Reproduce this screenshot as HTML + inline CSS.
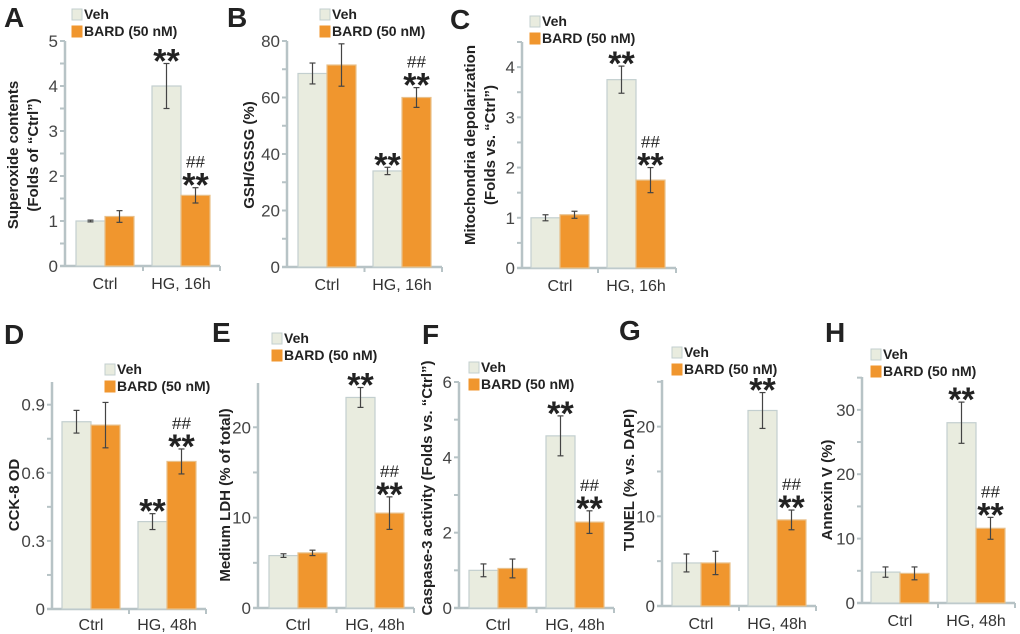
<!DOCTYPE html>
<html><head><meta charset="utf-8"><style>
body{margin:0;background:#fff}
svg{display:block;font-family:"Liberation Sans",Arial,sans-serif}
</style></head><body>
<svg id="c" width="1020" height="634" viewBox="0 0 1020 634"></svg>
<script>
const categories=['Ctrl','HG, 16h'];
const categories48=['Ctrl','HG, 48h'];
const seriesNames=['Veh','BARD (50 nM)'];
// values [Ctrl, HG]
const vehA=[1.0,4.0], vehErrA=[0.02,0.5], bardA=[1.1,1.57], bardErrA=[0.13,0.17];
const vehB=[68.5,34], vehErrB=[3.7,1.3], bardB=[71.5,60], bardErrB=[7.5,3.5];
const vehC=[1.0,3.75], vehErrC=[0.06,0.27], bardC=[1.06,1.75], bardErrC=[0.07,0.25];
const vehD=[0.825,0.385], vehErrD=[0.05,0.035], bardD=[0.81,0.65], bardErrD=[0.1,0.055];
const vehE=[5.8,23.3], vehErrE=[0.2,1.1], bardE=[6.1,10.5], bardErrE=[0.3,1.8];
const vehF=[1.0,4.57], vehErrF=[0.17,0.53], bardF=[1.05,2.28], bardErrF=[0.25,0.3];
const vehG=[4.8,21.8], vehErrG=[1.0,2.0], bardG=[4.8,9.6], bardErrG=[1.3,1.1];
const vehH=[4.8,28], vehErrH=[0.8,3.2], bardH=[4.6,11.6], bardErrH=[1.0,1.7];
const ticksA=[0,1,2,3,4,5], ticksB=[0,20,40,60,80], ticksC=[0,1,2,3,4], ticksD=[0,0.3,0.6,0.9];
const ticksE=[0,10,20], ticksF=[0,2,4,6], ticksG=[0,10,20], ticksH=[0,10,20,30];

const panels=[
 {id:'a',L:'A',lx:4,ly:27,ax:65,y0:266,yTop:41,vmax:5,minor:0.5,ticks:ticksA,tf:v=>v,veh:vehA,ve:vehErrA,bard:bardA,be:bardErrA,cats:categories,off:[40,116],xEnd:220,legX:72,legY:18,lab:['Superoxide contents','(Folds of “Ctrl”)'],labX:[18,38],labY:155},
 {id:'b',L:'B',lx:227,ly:27,ax:287,y0:267,yTop:41,vmax:80,minor:10,ticks:ticksB,tf:v=>v,veh:vehB,ve:vehErrB,bard:bardB,be:bardErrB,cats:categories,off:[40,115],xEnd:442,legX:320,legY:18,lab:['GSH/GSSG (%)'],labX:[254],labY:155},
 {id:'c',L:'C',lx:450,ly:29,ax:522,y0:268,yTop:42,vmax:4.5,minor:0.5,ticks:ticksC,tf:v=>v,veh:vehC,ve:vehErrC,bard:bardC,be:bardErrC,cats:categories,off:[38,114],xEnd:676,legX:530,legY:25,lab:['Mitochondria depolarization','(Folds vs. “Ctrl”)'],labX:[475,495],labY:145},
 {id:'d',L:'D',lx:4,ly:344,ax:52,y0:609,yTop:382,vmax:1.0,minor:0.15,ticks:ticksD,tf:v=>v===0?'0':v.toFixed(1),veh:vehD,ve:vehErrD,bard:bardD,be:bardErrD,cats:categories48,off:[39,115],xEnd:206,legX:105,legY:373,lab:['CCK-8 OD'],labX:[19],labY:495},
 {id:'e',L:'E',lx:212,ly:342,ax:258,y0:608,yTop:383,vmax:24.9,minor:5,ticks:ticksE,tf:v=>v,veh:vehE,ve:vehErrE,bard:bardE,be:bardErrE,cats:categories48,off:[40,117],xEnd:414,legX:272,legY:342,lab:['Medium LDH (% of total)'],labX:[230],labY:495},
 {id:'f',L:'F',lx:422,ly:344,ax:459,y0:608,yTop:382,vmax:6,minor:1,ticks:ticksF,tf:v=>v,veh:vehF,ve:vehErrF,bard:bardF,be:bardErrF,cats:categories48,off:[39,116],xEnd:614,legX:469,legY:371,lab:['Caspase-3 activity (Folds vs. “Ctrl”)'],labX:[432],labY:488},
 {id:'g',L:'G',lx:619,ly:340,ax:662,y0:606,yTop:380,vmax:25.2,minor:5,ticks:ticksG,tf:v=>v,veh:vehG,ve:vehErrG,bard:bardG,be:bardErrG,cats:categories48,off:[39,115],xEnd:816,legX:672,legY:356,lab:['TUNEL (% vs. DAPI)'],labX:[634],labY:480},
 {id:'h',L:'H',lx:825,ly:342,ax:862,y0:603,yTop:377,vmax:35.1,minor:5,ticks:ticksH,tf:v=>v,veh:vehH,ve:vehErrH,bard:bardH,be:bardErrH,cats:categories48,off:[38,114],xEnd:1015,legX:871,legY:358,lab:['Annexin V (%)'],labX:[832],labY:490}
];
const svg=document.getElementById('c');
const NS='http://www.w3.org/2000/svg';
function mk(tag,attrs,parent,txt){const e=document.createElementNS(NS,tag);for(const k in attrs)e.setAttribute(k,attrs[k]);if(txt!==undefined)e.textContent=txt;parent.appendChild(e);return e;}
const AX='#b7c3c6', VEH='#e9ecdf', VEHS='#c3cfcf', BARD='#f0962e', BARDS='#e8c08a';
const BW=29;
panels.forEach(p=>{
 const g=mk('g',{},svg);
 
 
 const ys=v=>p.y0-(v/p.vmax)*(p.y0-p.yTop);
 const t=mk('text',{x:p.lx,y:p.ly,'font-size':28,'font-weight':'bold',fill:'#222'},g,p.L);
 
 
 const ya=mk('line',{x1:p.ax,y1:p.yTop,x2:p.ax,y2:p.y0,stroke:AX,'stroke-width':2.5},g);
 
 
 const xa=mk('line',{x1:p.ax-5,y1:p.y0,x2:p.xEnd,y2:p.y0,stroke:AX,'stroke-width':2.5},g);
 
 
 for(let v=0;v<=p.vmax+1e-6;v+=p.minor){const y=ys(v);mk('line',{x1:p.ax-5,y1:y,x2:p.ax,y2:y,stroke:AX,'stroke-width':2},g);}
 mk('line',{x1:p.ax+(p.off[0]+p.off[1])/2,y1:p.y0,x2:p.ax+(p.off[0]+p.off[1])/2,y2:p.y0+5,stroke:AX,'stroke-width':2},g);
 mk('line',{x1:p.xEnd,y1:p.y0,x2:p.xEnd,y2:p.y0+5,stroke:AX,'stroke-width':2},g);
 p.ticks.forEach(v=>{
  const tl=mk('text',{x:p.ax-7,y:ys(v)+6,'font-size':17,'text-anchor':'end',fill:'#444'},g,p.tf(v));
  
  
 });
 p.lab.forEach((s,i)=>{
  const yl=mk('text',{x:p.labX[i],y:p.labY,'font-size':15,'font-weight':'bold','text-anchor':'middle',fill:'#222',transform:`rotate(-90 ${p.labX[i]} ${p.labY})`},g,s);
  
  
 });
 p.cats.forEach((c,i)=>{
  const cx=p.ax+p.off[i];
  const cl=mk('text',{x:cx,y:Math.min(p.y0+23,630),'font-size':16,'text-anchor':'middle',fill:'#333'},g,c);
  
  
  [[p.veh,p.ve,VEH,VEHS,cx-BW,'veh'],[p.bard,p.be,BARD,BARDS,cx,'bard']].forEach(([vals,errs,fill,st,x,nm])=>{
   const v=vals[i],e=errs[i];
   const r=mk('rect',{x:x,y:ys(v),width:BW,height:p.y0-ys(v),fill:fill,stroke:st,'stroke-width':1.2},g);
   
   
   const mx=x+BW/2,yt=ys(v+e),yb=ys(v-e);
   mk('line',{x1:mx,y1:yt,x2:mx,y2:yb,stroke:'#444','stroke-width':1.2},g);
   mk('line',{x1:mx-3,y1:yt,x2:mx+3,y2:yt,stroke:'#444','stroke-width':1.2},g);
   mk('line',{x1:mx-3,y1:yb,x2:mx+3,y2:yb,stroke:'#444','stroke-width':1.2},g);
   if(i===1){
    const s=mk('text',{x:mx,y:yt+9,'font-size':34,'font-weight':'bold','text-anchor':'middle',fill:'#222'},g,'**');
    
    
    if(nm==='bard'){
     const h=mk('text',{x:mx,y:yt-20,'font-size':17,'text-anchor':'middle',fill:'#222'},g,'##');
     
     
    }
   }
  });
 });
 [[VEH,VEHS,seriesNames[0]],[BARD,BARD,seriesNames[1]]].forEach(([f,s,n],i)=>{
  const y=p.legY+i*17;
  const lg=mk('g',{},g);
  
  
  mk('rect',{x:p.legX,y:y-9,width:10,height:11,fill:f,stroke:s,'stroke-width':1},lg);
  mk('text',{x:p.legX+12,y:y+1,'font-size':14,'font-weight':'bold',fill:'#222'},lg,n);
 });
});
</script>
</body></html>
